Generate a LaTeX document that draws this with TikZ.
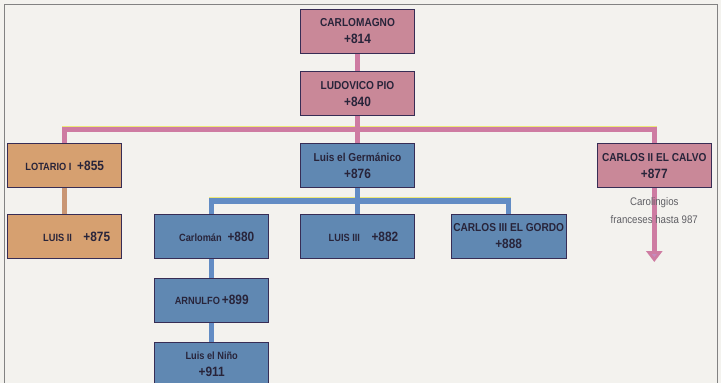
\documentclass[tikz,border=0pt]{standalone}
\usepackage{fontspec}
\setmainfont{Liberation Sans}
\newfontfamily\narrowfont{Liberation Sans}[FakeStretch=0.88]
\usepackage{xcolor}
\usepackage{tikz}
\usetikzlibrary{arrows.meta, positioning, calc, backgrounds}

\definecolor{paper}{RGB}{243,242,238}
\definecolor{framegray}{RGB}{130,130,130}
\definecolor{rosebox}{RGB}{201,136,152}
\definecolor{ochrebox}{RGB}{214,160,112}
\definecolor{steelbox}{RGB}{96,136,178}
\definecolor{boxedge}{RGB}{55,45,85}
\definecolor{roseline}{RGB}{206,124,162}
\definecolor{steelline}{RGB}{98,140,196}
\definecolor{ochreline}{RGB}{201,150,116}
\definecolor{misreg}{RGB}{236,232,120}
\definecolor{inktext}{RGB}{40,36,58}
\definecolor{notegray}{RGB}{95,95,100}
\definecolor{tipmauve}{RGB}{196,140,190}

\newcommand{\nm}[1]{{\fontsize{10.5}{12}\selectfont #1}}
\newcommand{\yr}[1]{{\fontsize{13.5}{15}\selectfont #1}}

\begin{document}
\begin{tikzpicture}[
        x=1pt, y=1pt,
        >=Stealth,
        node distance=18pt and 30pt,
        every node/.style={font=\narrowfont\bfseries\fontsize{11.5}{17}\selectfont, text=inktext},
        person/.style={draw=boxedge, line width=0.8pt, minimum width=114pt, minimum height=44pt, align=center, inner sep=2pt},
        rosep/.style={person, fill=rosebox},
        ochrep/.style={person, fill=ochrebox},
        steelp/.style={person, fill=steelbox},
        rosel/.style={draw=roseline, line width=5.5pt},
        steell/.style={draw=steelline, line width=5.5pt},
        ochrel/.style={draw=ochreline, line width=5pt},
        edged/.style={preaction={draw=misreg, line width=5pt, transform canvas={yshift=1.6pt}}},
        note/.style={font=\narrowfont\fontsize{11}{18}\selectfont, text=notegray, align=center},
    ]

    %% ===== Paper and frame =====
    \useasboundingbox (0,0) rectangle (721,-383);
    \begin{scope}[on background layer]
        \fill[paper] (0,0) rectangle (721,-383);
        \draw[framegray, line width=0.7pt] (4.5,-383) |- (717,-4.5) -- (717,-383);
    \end{scope}

    %% ===== First generations =====
    \node[rosep] (carlo) at (357.5,-31) {CARLOMAGNO\\\yr{+814}};
    \node[rosep, below=18pt of carlo] (ludo) {LUDOVICO PIO\\\yr{+840}};

    %% ===== Sons of Ludovico =====
    \node[steelp, below=27pt of ludo] (germ) {Luis el Germ\'anico\\\yr{+876}};
    \node[ochrep, left=178pt of germ] (lotario) {\nm{LOTARIO I}\enspace\yr{+855}};
    \node[rosep, right=182pt of germ] (calvo) {CARLOS II EL CALVO\\\yr{+877}};

    %% ===== Lotario branch =====
    \node[ochrep, below=26pt of lotario] (luis2) {\hspace*{24pt}\nm{LUIS II}\quad\yr{+875}};

    %% ===== Germanico branch =====
    \node[steelp, below=26pt of germ] (luis3) {\hspace*{12pt}\nm{LUIS III}\quad\yr{+882}};
    \node[steelp, left=31pt of luis3] (carloman) {\hspace*{10pt}\nm{Carlom\'an}\enspace\yr{+880}};
    \node[steelp, right=36pt of luis3] (gordo) {CARLOS III EL GORDO\\\yr{+888}};
    \node[steelp, below=19pt of carloman] (arnulfo) {\nm{ARNULFO}\,\yr{+899}};
    \node[steelp, below=19pt of arnulfo] (nino) {\nm{Luis el Ni\~no}\\\yr{+911}};

    %% ===== Carolingios franceses =====
    \coordinate[below=74pt of calvo] (calvoend);
    \node[note, below=6pt of calvo] (frances) {Carolingios\\franceses hasta 987};

    %% ===== Connectors =====
    \coordinate (roseknot) at ($(ludo.south)!0.5!(germ.north)$);
    \coordinate (steelknot) at ($(germ.south)!0.5!(luis3.north)$);
    \begin{scope}[on background layer]
        \draw[rosel] (carlo) -- (ludo);
        \draw[rosel, edged] (lotario.north) |- (roseknot) -| (calvo.north);
        \draw[rosel] (ludo) -- (germ);
        \draw[rosel, -{Triangle[width=16pt, length=11pt, fill=tipmauve]}] (calvo.south) -- (calvoend);
        \draw[ochrel] (lotario) -- (luis2);
        \draw[steell, edged] (carloman.north) |- (steelknot) -| (gordo.north);
        \draw[steell] (germ) -- (luis3);
        \draw[steell] (carloman) -- (arnulfo) -- (nino);
    \end{scope}

    \end{tikzpicture}
\end{document}
